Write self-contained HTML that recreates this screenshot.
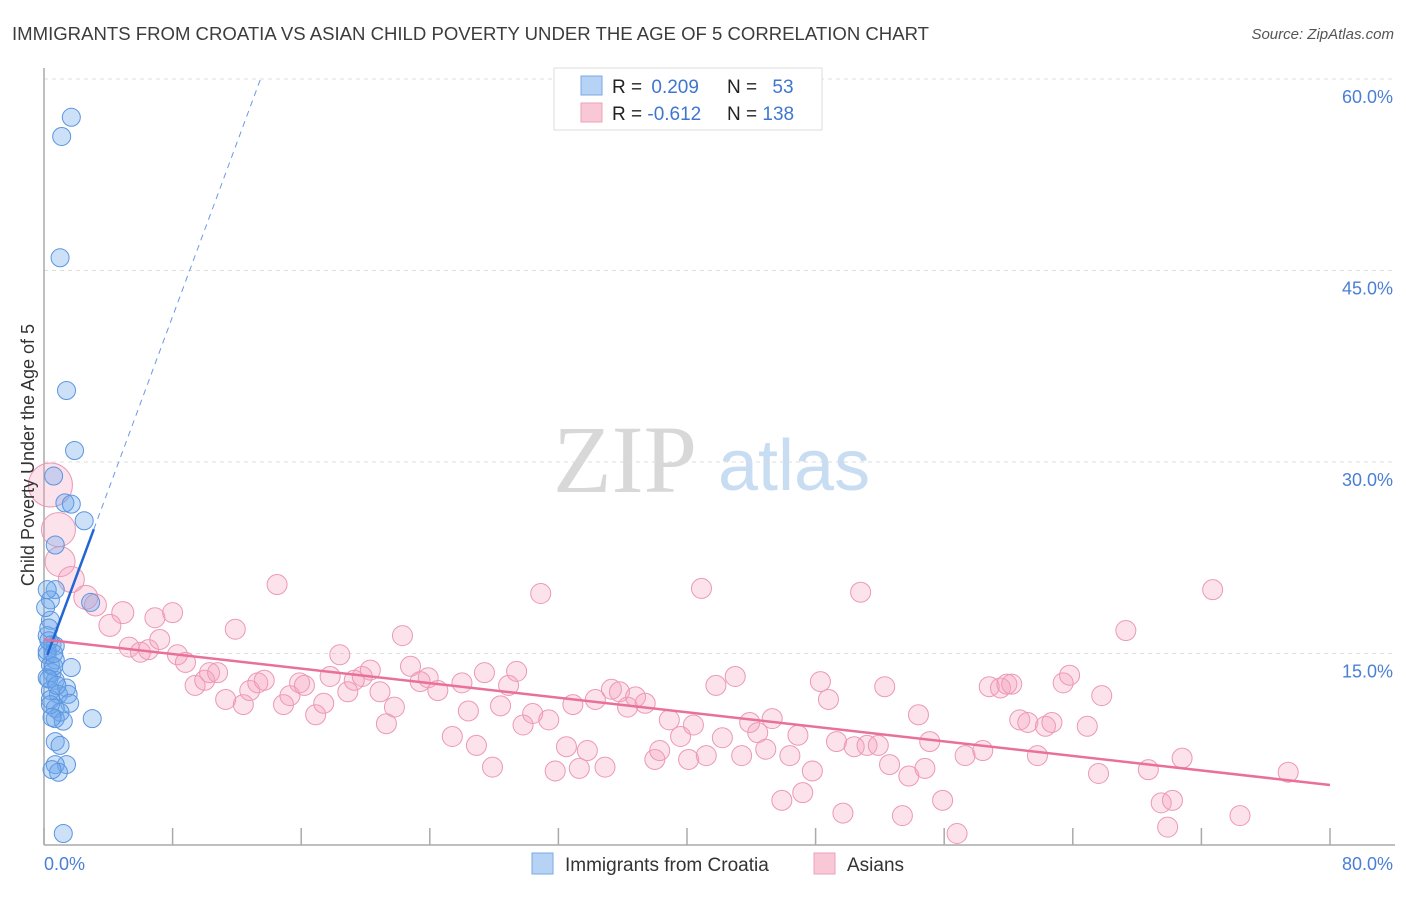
<!DOCTYPE html>
<html><head><meta charset="utf-8"><style>
body{margin:0;background:#fff;font-family:"Liberation Sans",sans-serif}
</style></head><body>
<svg width="1406" height="892" xmlns="http://www.w3.org/2000/svg">
<text x="12" y="40" font-size="18" fill="#3c3c3c" textLength="917" lengthAdjust="spacingAndGlyphs">IMMIGRANTS FROM CROATIA VS ASIAN CHILD POVERTY UNDER THE AGE OF 5 CORRELATION CHART</text>
<text x="1394" y="39" font-size="15" fill="#555" text-anchor="end" font-style="italic">Source: ZipAtlas.com</text>
<g>
<text x="553" y="492" font-family="Liberation Serif,serif" font-size="96" fill="#d8d8d8">ZIP</text>
<text x="718" y="490" font-size="72" fill="#c8dcf2">atlas</text>
</g>
<g id="grid"></g>
<g id="axes"></g>
<g id="pink"></g>
<g id="blue"></g>
<g id="trend"></g>
<text transform="translate(34,455) rotate(-90)" font-size="18" fill="#333" text-anchor="middle">Child Poverty Under the Age of 5</text>
<text x="44" y="870" font-size="18" fill="#4a7fd4">0.0%</text>
<text x="1393" y="870" font-size="18" fill="#4a7fd4" text-anchor="end">80.0%</text>
<g>
<rect x="554" y="68" width="268" height="62" fill="#fff" stroke="#ddd"/>
<rect x="581" y="76" width="21" height="19" fill="#b6d2f5" stroke="#7aaae8"/>
<rect x="581" y="103" width="21" height="19" fill="#f9c8d6" stroke="#eea0b8"/>
<text x="612" y="93" font-size="19" fill="#222">R = <tspan fill="#3f76d0" dx="4">0.209</tspan></text>
<text x="727" y="93" font-size="19" fill="#222">N = <tspan fill="#3f76d0" dx="10">53</tspan></text>
<text x="612" y="120" font-size="19" fill="#222">R = <tspan fill="#3f76d0">-0.612</tspan></text>
<text x="727" y="120" font-size="19" fill="#222">N = <tspan fill="#3f76d0">138</tspan></text>
</g>
<g>
<rect x="532" y="853" width="21" height="21" fill="#b6d2f5" stroke="#7aaae8"/>
<text x="565" y="871" font-size="19" fill="#333">Immigrants from Croatia</text>
<rect x="814" y="853" width="21" height="21" fill="#f9c8d6" stroke="#eea0b8"/>
<text x="847" y="871" font-size="19" fill="#333">Asians</text>
</g>
</svg>
<script>
const yTicks=[15,30,45,60];
const yTickLabels=["15.0%","30.0%","45.0%","60.0%"];
const xTicks=[0,8,16,24,32,40,48,56,64,72,80];
const blueX=[1.7,1.1,1.0,1.4,1.9,0.6,1.3,1.7,2.5,0.7,0.7,0.4,2.9,0.4,0.2,0.5,0.7,0.2,0.7,0.4,1.7,0.5,0.2,0.7,1.4,0.4,0.9,1.5,0.4,1.6,0.7,1.0,3.0,0.7,1.2,0.7,1.0,1.4,0.7,0.9,0.5,1.2,0.2,0.1,0.3,0.2,0.6,0.3,0.8,0.4,0.3,0.5,0.6];
const blueY=[57.0,55.5,46.0,35.6,30.9,28.9,26.8,26.7,25.4,23.5,20.0,19.2,19.0,17.6,16.4,15.7,15.6,14.9,14.5,14.1,13.9,13.5,13.1,12.9,12.3,12.1,11.8,11.8,11.4,11.1,10.7,10.4,9.9,9.9,9.7,8.1,7.8,6.3,6.3,5.7,5.9,0.9,20.0,18.6,17.0,15.2,14.0,13.0,12.5,11.0,16.0,10.0,15.0];
const pinkX=[0.4,0.9,1.0,1.7,2.6,3.2,4.1,4.9,5.3,6.0,6.5,6.9,7.2,8.0,8.3,8.8,9.4,10.0,10.3,10.8,11.3,11.9,12.4,12.8,13.3,13.7,14.5,14.9,15.3,15.9,16.2,16.9,17.4,17.8,18.4,18.9,19.3,19.8,20.3,20.9,21.3,21.8,22.3,22.8,23.4,23.9,24.5,25.4,26.0,26.4,26.9,27.4,27.9,28.4,28.9,29.4,29.8,30.4,30.9,31.4,31.8,32.5,32.9,33.3,33.8,34.3,34.9,35.3,35.8,36.3,36.8,37.4,38.0,38.3,38.9,39.6,40.1,40.4,40.9,41.2,41.8,42.2,43.0,43.4,43.9,44.4,44.9,45.3,45.9,46.4,46.9,47.2,47.8,48.3,48.8,49.3,49.7,50.4,50.8,51.2,51.9,52.3,52.6,53.4,53.8,54.4,54.8,55.1,55.9,56.8,57.3,58.4,58.8,59.5,59.9,60.2,60.7,61.2,61.8,62.3,62.7,63.4,63.8,64.9,65.6,65.8,67.3,68.7,69.5,69.9,70.2,70.8,72.7,74.4,77.4];
const pinkY=[28.2,24.7,22.2,20.8,19.4,18.8,17.2,18.2,15.5,15.1,15.3,17.8,16.1,18.2,14.9,14.3,12.5,12.9,13.5,13.5,11.4,16.9,11.0,12.1,12.7,12.9,20.4,11.0,11.7,12.7,12.5,10.2,11.1,13.2,14.9,12.0,12.9,13.2,13.7,12.0,9.5,10.8,16.4,14.0,12.8,13.1,12.1,8.5,12.7,10.5,7.8,13.5,6.1,10.9,12.5,13.6,9.4,10.3,19.7,9.8,5.8,7.7,11.0,6.0,7.4,11.4,6.1,12.2,12.0,10.8,11.6,11.1,6.7,7.4,9.8,8.5,6.7,9.4,20.1,7.0,12.5,8.4,13.2,7.0,9.6,8.8,7.5,9.9,3.5,7.0,8.6,4.1,5.8,12.8,11.4,8.1,2.5,7.7,19.8,7.8,7.8,12.4,6.3,2.3,5.4,10.2,6.0,8.1,3.5,0.9,7.0,7.4,12.4,12.3,12.6,12.6,9.8,9.6,7.0,9.3,9.6,12.7,13.3,9.3,5.6,11.7,16.8,5.9,3.3,1.4,3.5,6.8,20.0,2.3,5.7];
const pinkR=[22,17,15,13,12,11,11,11,10,10,10,10,10,10,10,10,10,10,10,10,10,10,10,10,10,10,10,10,10,10,10,10,10,10,10,10,10,10,10,10,10,10,10,10,10,10,10,10,10,10,10,10,10,10,10,10,10,10,10,10,10,10,10,10,10,10,10,10,10,10,10,10,10,10,10,10,10,10,10,10,10,10,10,10,10,10,10,10,10,10,10,10,10,10,10,10,10,10,10,10,10,10,10,10,10,10,10,10,10,10,10,10,10,10,10,10,10,10,10,10,10,10,10,10,10,10,10,10,10,10,10,10,10,10,10,10];
const blueTrend=[14.2,3.4];
const pinkTrend=[16.1,-0.1425];
const X0=44,X1=1330,Y0=845,YTOP=79;
const xs=v=>X0+(v/80)*(X1-X0);
const ys=v=>Y0-(v/60)*(Y0-YTOP);
const NS="http://www.w3.org/2000/svg";
function mk(tag,attrs,parent){const e=document.createElementNS(NS,tag);for(const k in attrs)e.setAttribute(k,attrs[k]);document.getElementById(parent).appendChild(e);return e;}
yTicks.forEach((t,i)=>{
 const l=mk('line',{x1:X0,x2:1395,y1:ys(t),y2:ys(t),stroke:'#ddd','stroke-dasharray':'4,4'},'grid');
 
 
 const tx=mk('text',{x:1393,y:ys(t)+24,'font-size':18,fill:'#4a7fd4','text-anchor':'end'},'grid');
 tx.textContent=yTickLabels[i];
 
 
});
const ya=mk('line',{x1:X0,x2:X0,y1:68,y2:Y0,stroke:'#aaa','stroke-width':1.5},'axes');


const xa=mk('line',{x1:X0,x2:1395,y1:Y0,y2:Y0,stroke:'#aaa','stroke-width':1.5},'axes');


xTicks.forEach(t=>{
 const l=mk('line',{x1:xs(t),x2:xs(t),y1:Y0-17,y2:Y0,stroke:'#aaa','stroke-width':1.5},'axes');
 
 
});
pinkX.forEach((x,i)=>{
 const c=mk('circle',{cx:xs(x),cy:ys(pinkY[i]),r:pinkR[i],fill:'rgba(244,160,188,0.3)',stroke:'#ec98b4','stroke-width':1},'pink');
 
 
});
blueX.forEach((x,i)=>{
 const c=mk('circle',{cx:xs(x),cy:ys(blueY[i]),r:9,fill:'rgba(110,165,235,0.35)',stroke:'#5b95e0','stroke-width':1},'blue');
 
 
});
const bt=v=>blueTrend[0]+blueTrend[1]*v;
const pt=v=>pinkTrend[0]+pinkTrend[1]*v;
const b1=mk('line',{x1:xs(0.2),y1:ys(bt(0.2)),x2:xs(3.1),y2:ys(bt(3.1)),stroke:'#2266d4','stroke-width':2.5},'trend');


const xe=(60-blueTrend[0])/blueTrend[1];
const b2=mk('line',{x1:xs(3.1),y1:ys(bt(3.1)),x2:xs(xe),y2:ys(60),stroke:'#6a9be3','stroke-width':1,'stroke-dasharray':'6,5'},'trend');


const p1=mk('line',{x1:xs(0),y1:ys(pt(0)),x2:xs(80),y2:ys(pt(80)),stroke:'#e8709a','stroke-width':2.5},'trend');


</script>
</body></html>
